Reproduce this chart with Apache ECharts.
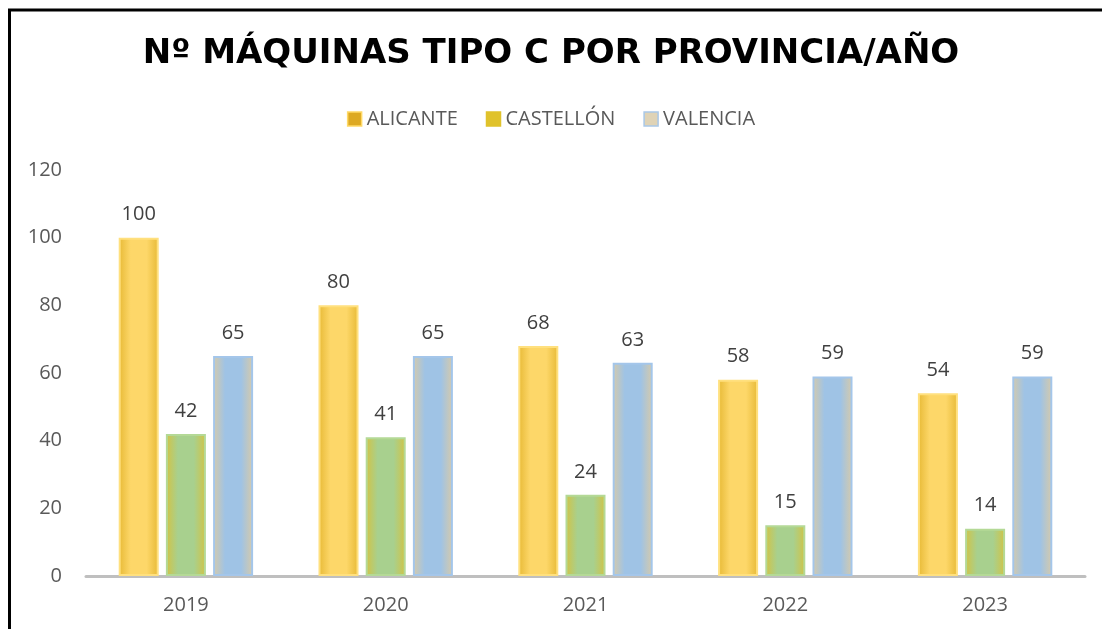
<!DOCTYPE html>
<html>
<head>
<meta charset="utf-8">
<script src="https://cdn.jsdelivr.net/npm/echarts@6/dist/echarts.min.js"></script>
<style>
  html, body { margin: 0; padding: 0; background: #fff; }
  #chart { width: 1102px; height: 629px; }
</style>
</head>
<body>
<div id="chart"></div>
<script>
const years = ['2019', '2020', '2021', '2022', '2023']
const alicante = [100, 80, 68, 58, 54]
const castellon = [42, 41, 24, 15, 14]
const valencia = [65, 65, 63, 59, 59]
const seriesNames = ['ALICANTE', 'CASTELLÓN', 'VALENCIA']

// gradient horizontal: bordes más oscuros, centro claro
function grad(edge, center) {
  return new echarts.graphic.LinearGradient(0, 0, 1, 0, [
    { offset: 0, color: edge },
    { offset: 0.3, color: center },
    { offset: 0.7, color: center },
    { offset: 1, color: edge },
  ])
}

const styles = [
  { fill: grad('#E7B935', '#FDD769'), border: '#FFE07E', icon: '#DDA923', iconBorder: '#FFD966' },
  { fill: grad('#D2C344', '#A8D08E'), border: '#B4D996', icon: '#E0C22B', iconBorder: '#E0C22B' },
  { fill: grad('#D6CAAA', '#9FC3E5'), border: '#A4C6EA', icon: '#DFD3B6', iconBorder: '#A9C8E8' },
]
const values = [alicante, castellon, valencia]

let myChart = echarts.init(document.getElementById('chart'))
myChart.setOption({
  animation: false,
  textStyle: { fontFamily: 'Open Sans' },
  title: {
    text: 'Nº MÁQUINAS TIPO C POR PROVINCIA/AÑO',
    left: 'center',
    top: 32,
    textStyle: {
      fontFamily: 'DejaVu Sans',
      fontSize: 34,
      fontWeight: 'bold',
      color: '#000',
    },
  },
  legend: {
    top: 104,
    left: 'center',
    itemWidth: 14,
    itemHeight: 14,
    itemGap: 28,
    textStyle: { fontSize: 20, color: '#595959', fontFamily: 'Open Sans' },
    data: seriesNames.map((n, i) => ({
      name: n,
      icon: 'rect',
      itemStyle: { color: styles[i].icon, borderColor: styles[i].iconBorder, borderWidth: 1.5 },
    })),
  },
  grid: { left: 86, right: 17, top: 170, bottom: 53 },
  xAxis: {
    type: 'category',
    data: years,
    axisLine: { lineStyle: { color: '#BFBFBF', width: 3 } },
    axisTick: { show: false },
    axisLabel: { color: '#595959', fontSize: 20, margin: 19 },
  },
  yAxis: {
    type: 'value',
    min: 0,
    max: 120,
    interval: 20,
    splitLine: { show: false },
    axisLabel: { color: '#595959', fontSize: 20, margin: 24 },
  },
  graphic: [
    {
      type: 'polyline',
      shape: { points: [[9.5, 640], [9.5, 10], [1110, 10]] },
      style: { stroke: '#000', lineWidth: 3, fill: null },
    },
  ],
  series: seriesNames.map((n, i) => ({
    name: n,
    type: 'bar',
    barWidth: 40,
    barGap: '18%',
    data: values[i],
    itemStyle: { color: styles[i].fill, borderColor: styles[i].border, borderWidth: 2 },
    label: { show: true, position: 'top', distance: 13, fontSize: 20, color: '#404040' },
  })),
})
</script>
</body>
</html>
